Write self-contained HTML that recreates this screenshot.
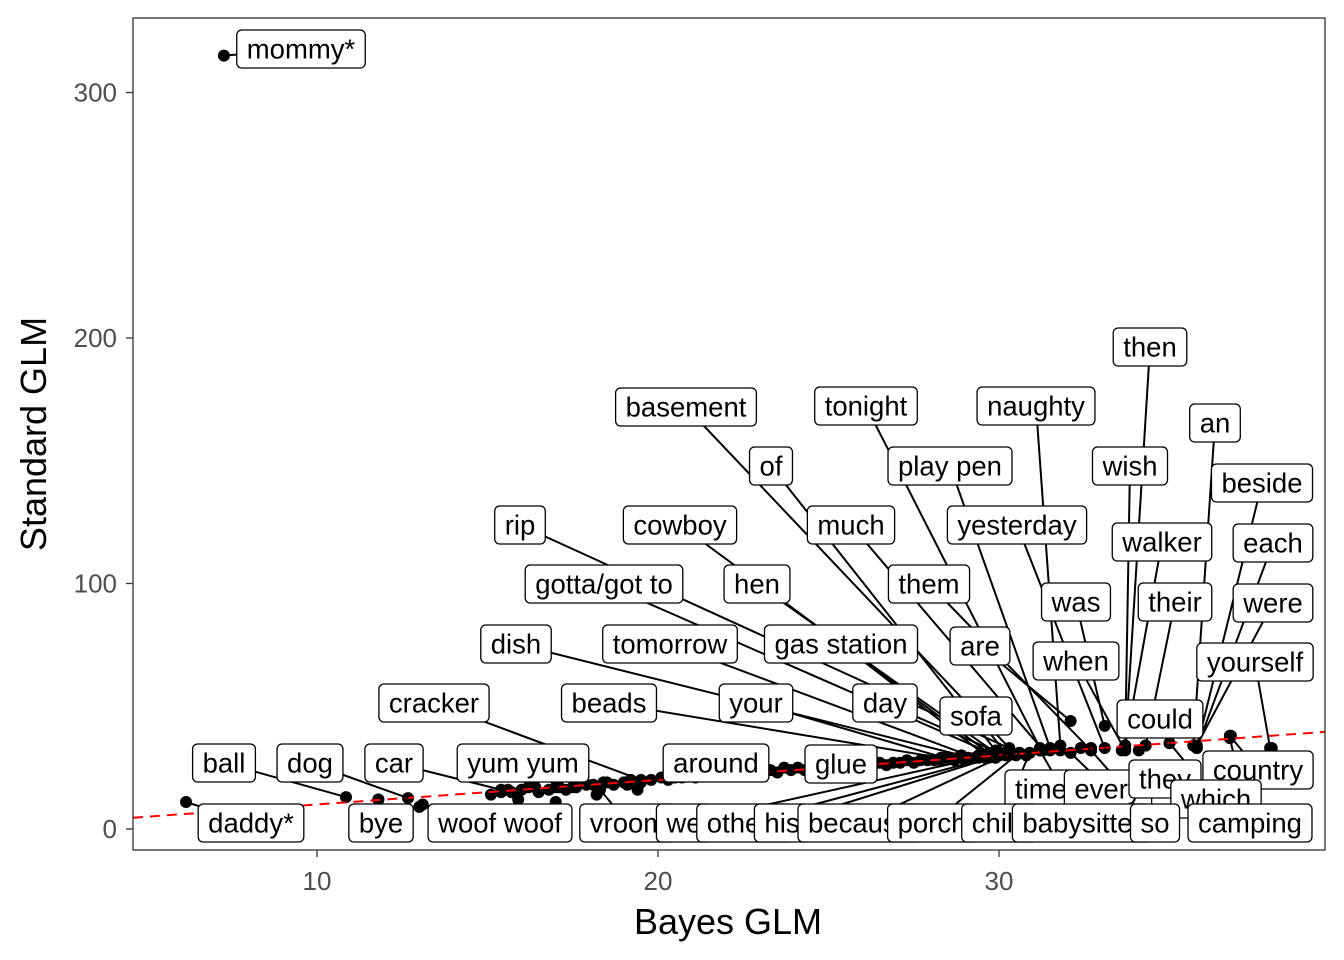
<!DOCTYPE html>
<html><head><meta charset="utf-8"><style>
html,body{margin:0;padding:0;background:#fff}
svg{display:block;font-family:"Liberation Sans","DejaVu Sans",sans-serif}
</style></head><body>
<svg id="chart" width="1344" height="960" xmlns="http://www.w3.org/2000/svg">
<rect x="0" y="0" width="1344" height="960" fill="#fff"/>
<g id="marks"></g>
<rect x="133" y="18" width="1192" height="832" fill="none" stroke="#333" stroke-width="1.3"/>
<text x="728" y="934" font-size="36" text-anchor="middle" fill="#000">Bayes GLM</text>
<text transform="translate(46,434) rotate(-90)" font-size="36" text-anchor="middle" fill="#000">Standard GLM</text>
</svg>
<script>
const xTicks=[10,20,30];
const yTicks=[0,100,200,300];
// unlabeled points: bayes values and standard values
const bgBayes=[11.8,13.0,15.1,15.4,15.7,16.0,16.2,16.5,16.8,17.0,17.3,17.6,17.9,18.1,18.4,18.7,19.0,19.2,19.5,19.8,20.1,20.5,20.9,21.3,21.7,22.1,22.5,22.9,23.3,23.7,24.1,24.5,24.9,25.3,25.7,26.1,26.5,26.9,27.3,27.7,28.1,28.5,28.8,29.1,29.4,29.7,30.0,30.3,30.6,30.9,31.2,31.5,31.8,32.4,32.7,33.6,34.3,35.0,35.7,36.8,38.0,15.9,17.0,18.2,19.4,20.3,20.7,21.1,21.5,21.9,22.3,22.7,23.1,23.5,23.9,24.3,24.7,25.1,25.5,25.9,26.3,26.7,27.1,27.5,27.9,28.3,28.7,29.0,29.3,29.6,29.9,30.2,30.5,30.8,15.6,16.4,17.5,18.5,19.1];
const bgStd=[12,9,14,15,15,16,17,15,16,17,16,17,18,18,19,18,19,20,19,20,21,21,22,22,23,23,23,24,24,25,25,25,26,26,26,27,27,27,28,28,28,29,29,29,30,30,30,31,31,31,32,32,32,33,33,32,34,35,34,38,33,12,11,14,16,20,21,21,22,22,22,23,23,23,24,24,24,25,25,26,26,26,27,27,28,28,28,28,29,29,29,30,30,30,16,17,17,19,18];
// labeled points
const words=["mommy*","then","basement","tonight","naughty","an","of","play pen","wish","beside","rip","cowboy","much","yesterday","walker","each","gotta/got to","hen","them","was","their","were","dish","tomorrow","gas station","are","when","yourself","cracker","beads","your","day","sofa","could","ball","dog","car","yum yum","around","glue","time","every","they","country","which","daddy*","bye","woof woof","vroom","we","others","his","because","porch","child","babysitter","so","camping"];
const wBayes=[7.27,33.7,30.3,31.2,31.8,35.7,29.9,31.5,33.7,35.8,30.6,29.7,31.3,33.1,33.7,35.8,29.9,29.9,32.7,33.1,34.3,35.8,28.9,29.3,29.6,32.1,33.7,37.95,19.5,28.3,28.4,30.0,30.2,34.3,10.85,12.67,15.4,17.1,21.2,24.7,30.9,32.1,34.1,36.77,35.0,6.16,11.8,13.1,18.3,29.4,29.7,30.0,30.3,30.6,30.9,31.2,32.7,36.77];
const wStd=[315,33,33,33,34,34,32,33,34,33,31,31,32,33,34,33,30,31,32,42,34,34,30,29,30,44,32,33,20,29,29,31,31,34,13,12.6,16,17,22,25,31,31,32,38,35,11,12,10,16,29,29,30,31,31,31,32,32,37];
// label box centers (layout, px)
const boxX=[301,1150,686,866,1036,1215,771,950,1130,1262,520,680,851,1017,1162,1273,604,757,929,1076,1175,1273,516,670,841,980,1076,1255,434,609,756,885,976,1160,224,310,394,523,716,841,1041,1108,1165,1258,1216,251,381,500,628,684,745,782,860,932,1000,1082,1155,1250];
const boxY=[49,347,407,406,406,423,466,466,466,483,525,525,525,525,542,543,584,584,584,602,602,603,644,644,644,646,661,662,703,703,703,703,716,719,763,763,763,763,763,764,789,789,779,770,799,823,823,823,823,823,823,823,823,823,823,823,823,823];
const X=v=>317+(v-10)*34.1;
const Y=v=>829-v*2.455;
const NS="http://www.w3.org/2000/svg";
const g=document.getElementById('marks');
function mk(t,a){const e=document.createElementNS(NS,t);for(const k in a)e.setAttribute(k,a[k]);return e;}
xTicks.forEach(t=>{
  const l=mk('line',{x1:X(t),x2:X(t),y1:850,y2:857,stroke:'#333','stroke-width':1.3});
  
  
  g.appendChild(l);
  const tx=mk('text',{x:X(t),y:890,'font-size':26,'text-anchor':'middle',fill:'#4d4d4d'});
  
  
  tx.textContent=t;g.appendChild(tx);
});
yTicks.forEach(t=>{
  const l=mk('line',{x1:126,x2:133,y1:Y(t),y2:Y(t),stroke:'#333','stroke-width':1.3});
  
  
  g.appendChild(l);
  const tx=mk('text',{x:117,y:Y(t)+9,'font-size':26,'text-anchor':'end',fill:'#4d4d4d'});
  
  
  tx.textContent=t;g.appendChild(tx);
});
bgBayes.forEach((b,i)=>{
  const c=mk('circle',{cx:X(b),cy:Y(bgStd[i]),r:6,fill:'#000'});
  
  
  g.appendChild(c);
});
words.forEach((w,i)=>{
  const c=mk('circle',{cx:X(wBayes[i]),cy:Y(wStd[i]),r:6,fill:'#000'});
  
  
  g.appendChild(c);
});
// reference line y = x
const rl=mk('line',{x1:133,y1:Y((133-317)/34.1+10),x2:1325,y2:Y((1325-317)/34.1+10),stroke:'#f00','stroke-width':2,'stroke-dasharray':'10,7'});


g.appendChild(rl);
// segments
words.forEach((w,i)=>{
  const px=X(wBayes[i]),py=Y(wStd[i]);
  const d=Math.hypot(px-boxX[i],py-boxY[i]);
  if(d<40)return;
  const s=mk('line',{x1:boxX[i],y1:boxY[i],x2:px,y2:py,stroke:'#000','stroke-width':2});
  
  
  g.appendChild(s);
});
// labels
words.forEach((w,i)=>{
  const grp=mk('g',{});
  
  
  const t=mk('text',{x:boxX[i],y:boxY[i]+9.5,'font-size':27.5,'text-anchor':'middle',fill:'#000'});
  t.textContent=w;
  const r=mk('rect',{rx:5,ry:5,fill:'#fff',stroke:'#000','stroke-width':1.3});
  grp.appendChild(r);grp.appendChild(t);g.appendChild(grp);
  const tw=t.getComputedTextLength();
  r.setAttribute('x',boxX[i]-tw/2-10);r.setAttribute('y',boxY[i]-19);
  r.setAttribute('width',tw+20);r.setAttribute('height',38);
});
</script>
</body></html>
